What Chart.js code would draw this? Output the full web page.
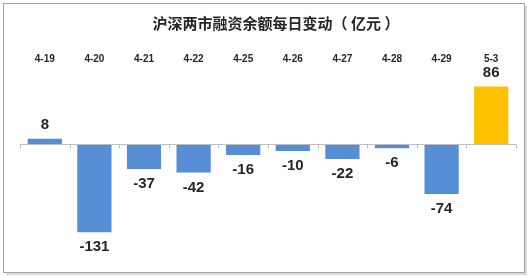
<!DOCTYPE html>
<html>
<head>
<meta charset="utf-8">
<script src="https://cdn.jsdelivr.net/npm/chart.js@4.4.0/dist/chart.umd.min.js"></script>
<style>
  html, body { margin: 0; padding: 0; background: #ffffff; }
  #wrap { width: 530px; height: 277px; position: relative; }
</style>
</head>
<body>
<div id="wrap"><canvas id="c" width="530" height="277"></canvas></div>
<script>
const categories = ['4-19', '4-20', '4-21', '4-22', '4-25', '4-26', '4-27', '4-28', '4-29', '5-3'];
const values = [8, -131, -37, -42, -16, -10, -22, -6, -74, 86];
const barColors = ['#558ED5', '#558ED5', '#558ED5', '#558ED5', '#558ED5', '#558ED5', '#558ED5', '#558ED5', '#558ED5', '#FFC000'];
const titleText = '沪深两市融资余额每日变动（ 亿元 ）';

const framePlugin = {
  id: 'frame',
  beforeDraw(chart) {
    const ctx = chart.ctx;
    ctx.save();
    ctx.fillStyle = '#ffffff';
    ctx.fillRect(0, 0, chart.width, chart.height);
    ctx.fillStyle = '#d9d9d9';
    ctx.fillRect(6, 273, 521, 2);
    ctx.fillRect(525, 6, 2, 269);
    ctx.strokeStyle = '#a6a6a6';
    ctx.lineWidth = 1;
    ctx.strokeRect(3.5, 3.5, 521, 269);
    // title
    ctx.font = 'bold 15px "Noto Sans CJK SC", sans-serif';
    ctx.fillStyle = '#262626';
    ctx.textAlign = 'center';
    ctx.textBaseline = 'middle';
    ctx.fillText(titleText, 276, 23);
    ctx.restore();
  }
};

const zeroAxisPlugin = {
  id: 'zeroAxis',
  afterDatasetsDraw(chart) {
    const ctx = chart.ctx;
    const x = chart.scales.x;
    const y = chart.scales.y;
    const y0 = Math.round(y.getPixelForValue(0)) + 0.5;
    ctx.save();
    ctx.strokeStyle = '#bfbfbf';
    ctx.lineWidth = 1;
    ctx.beginPath();
    ctx.moveTo(x.left, y0);
    ctx.lineTo(x.right, y0);
    const n = categories.length;
    const step = (x.right - x.left) / n;
    for (let i = 0; i <= n; i++) {
      const px = Math.round(x.left + i * step) + 0.5;
      ctx.moveTo(px, y0);
      ctx.lineTo(px, y0 + 4);
    }
    ctx.stroke();
    ctx.restore();
  }
};

const labelPlugin = {
  id: 'valLabels',
  afterDatasetsDraw(chart) {
    const ctx = chart.ctx;
    const meta = chart.getDatasetMeta(0);
    ctx.save();
    ctx.font = 'bold 15px "Liberation Sans", Arial, sans-serif';
    ctx.fillStyle = '#262626';
    ctx.textAlign = 'center';
    ctx.textBaseline = 'middle';
    meta.data.forEach((bar, i) => {
      const v = values[i];
      const py = v >= 0 ? bar.y - 14 : bar.y + 15;
      ctx.fillText(String(v), bar.x, py);
    });
    ctx.restore();
  }
};

new Chart(document.getElementById('c'), {
  type: 'bar',
  data: {
    labels: categories,
    datasets: [{
      data: values,
      backgroundColor: barColors,
      borderWidth: 0,
      barPercentage: 0.69,
      categoryPercentage: 1.0
    }]
  },
  options: {
    responsive: false,
    animation: false,
    devicePixelRatio: 1,
    layout: { padding: { left: 20, right: 14, top: 41, bottom: 32 } },
    plugins: {
      legend: { display: false },
      tooltip: { enabled: false },
      title: { display: false }
    },
    scales: {
      x: {
        position: 'top',
        grid: { display: false, drawTicks: false },
        border: { display: false },
        ticks: {
          color: '#262626',
          padding: 12,
          maxRotation: 0,
          font: { family: '"Liberation Sans", Arial, sans-serif', size: 10, weight: 'bold' }
        }
      },
      y: {
        display: false,
        min: -150,
        max: 100
      }
    }
  },
  plugins: [framePlugin, zeroAxisPlugin, labelPlugin]
});
</script>
</body>
</html>
